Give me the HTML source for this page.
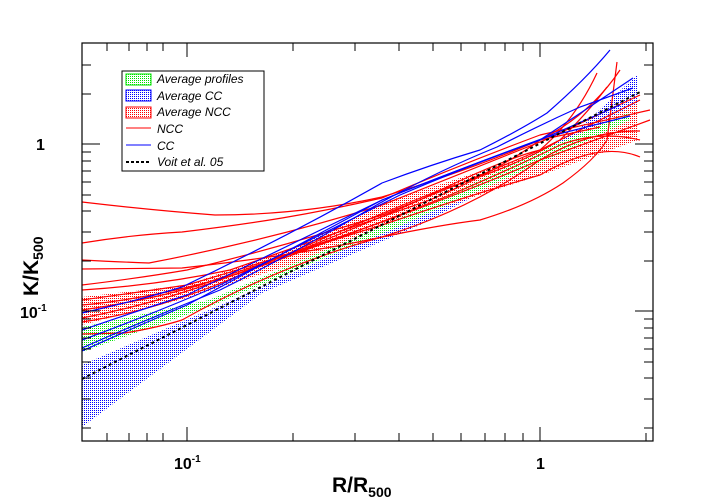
<!DOCTYPE html>
<html><head><meta charset="utf-8"><style>
body{margin:0;background:#fff}
svg{display:block;font-family:"Liberation Sans",Arial,sans-serif}
</style></head><body>
<svg width="713" height="498" viewBox="0 0 713 498" xmlns="http://www.w3.org/2000/svg">
<defs>
<pattern id="pg" width="2" height="2" patternUnits="userSpaceOnUse"><rect width="1" height="1" fill="#00e000"/></pattern>
<pattern id="pb" width="2" height="2" patternUnits="userSpaceOnUse"><rect width="1" height="1" fill="#0000ff"/></pattern>
<pattern id="pr" width="2" height="2" patternUnits="userSpaceOnUse"><rect width="1" height="1" fill="#ff0000"/></pattern>
<clipPath id="c"><rect x="82" y="43" width="571" height="398"/></clipPath>
</defs>
<g clip-path="url(#c)">
<path d="M82,365 L262,287 L420,215 L580,128 L638,74 L638,112 L580,140 L420,225 L262,293 L82,427 Z" fill="url(#pb)"/>
<path d="M82,297 L187,285 L300,245 L382,203 L547,150 L638,103 L638,140 L547,173 L382,227 L300,262 L187,298 L82,325 Z" fill="url(#pr)"/>
<path d="M82,327 L209,300 L400,218 L547,148 L630,112 L630,120 L547,160 L400,226 L209,307 L82,352 Z" fill="url(#pg)"/>
<g fill="none" stroke="#f00" stroke-width="1.2">
<path d="M82,202 Q150,210 215,215 Q300,215 382,197 Q470,170 540,140 L600,127"/>
<path d="M82,243 Q130,235 182,232 Q240,225 282,218 Q330,210 382,198 Q460,165 540,135 L650,110"/>
<path d="M82,260 Q120,262 149,263 Q270,240 382,205 Q470,170 545,140 L640,95"/>
<path d="M82,269 L182,268 Q300,255 382,237 Q470,210 540,160 Q590,130 640,131"/>
<path d="M82,334 L125,333 Q160,327 182,320 Q280,265 382,237 Q440,225 480,220 Q530,205 563,183 Q595,160 607,140 Q612,100 617,62"/>
<path d="M82,285 Q140,278 187,270 Q290,245 382,215 Q470,180 540,150 L640,100"/>
<path d="M82,300 Q140,292 187,285 Q290,255 382,222 Q470,190 540,160 L650,120"/>
<path d="M82,310 Q150,300 200,285 Q300,250 382,225 Q470,195 540,175 Q600,140 640,157"/>
<path d="M82,318 Q150,305 220,280 Q330,240 420,200 Q500,160 540,150 Q575,120 597,73"/>
<path d="M82,322 Q160,310 240,275 Q340,230 440,190 Q520,165 560,140 Q590,110 607,87"/>
<path d="M82,305 Q160,298 250,270 Q350,235 450,195 Q520,165 560,145 Q600,130 640,140"/>
<path d="M82,290 Q160,285 230,270 Q330,235 430,200 Q500,170 540,140 Q590,115 620,70"/>
</g>
<g fill="none" stroke="#00f" stroke-width="1.2">
<path d="M82,313 Q140,300 182,287 Q290,235 382,183 Q430,165 480,150 Q520,130 547,113 Q585,80 610,50"/>
<path d="M82,330 Q140,310 187,295 Q290,245 382,200 Q470,165 540,140 L633,78"/>
<path d="M82,351 Q140,325 187,305 Q290,250 382,200 Q470,165 547,137 L630,116"/>
<path d="M82,348 Q150,318 220,290 Q300,250 380,203 Q440,170 497,147 Q540,125 580,107 L633,88"/>
<path d="M82,340 Q150,315 220,285 Q310,240 400,195 Q470,165 540,140 L620,105"/>
</g>
<path d="M82,379 L642,91" stroke="#000" stroke-width="2" stroke-dasharray="3,3" fill="none"/>
</g>
<rect x="82" y="43" width="571" height="398" fill="none" stroke="#000" stroke-width="1.2"/>
<g stroke="#000" stroke-width="1">
<path d="M187,441v-14M540,441v-14M187,43v14M540,43v14
M107,441v-8M129,441v-8M147,441v-8M163,441v-8M293,441v-8M355,441v-8M399,441v-8M433,441v-8M461,441v-8M485,441v-8M505,441v-8M523,441v-8M646,441v-8
M107,43v8M129,43v8M147,43v8M163,43v8M293,43v8M355,43v8M399,43v8M433,43v8M461,43v8M485,43v8M505,43v8M523,43v8M646,43v8"/>
<path d="M82,144h18M82,311h18M653,144h-18M653,311h-18
M82,428h9M82,399h9M82,378h9M82,362h9M82,349h9M82,338h9M82,328h9M82,319h9M82,261h9M82,232h9M82,211h9M82,195h9M82,182h9M82,171h9M82,161h9M82,152h9M82,94h9M82,65h9
M653,428h-9M653,399h-9M653,378h-9M653,362h-9M653,349h-9M653,338h-9M653,328h-9M653,319h-9M653,261h-9M653,232h-9M653,211h-9M653,195h-9M653,182h-9M653,171h-9M653,161h-9M653,152h-9M653,94h-9M653,65h-9"/>
</g>
<g font-weight="bold" font-size="16" fill="#000">
<text x="36" y="150">1</text>
<text x="20" y="318">10<tspan font-size="10" dy="-7">-1</tspan></text>
<text x="174" y="469">10<tspan font-size="10" dy="-7">-1</tspan></text>
<text x="536" y="469">1</text>
</g>
<text x="332" y="492" font-weight="bold" font-size="21">R/R<tspan font-size="14" dy="5">500</tspan></text>
<text transform="translate(38,296) rotate(-90)" font-weight="bold" font-size="21">K/K<tspan font-size="14" dy="5">500</tspan></text>
<rect x="122" y="71" width="142" height="100" fill="#fff" stroke="#000" stroke-width="1"/>
<rect x="126" y="74" width="25" height="11" fill="url(#pg)" stroke="#00e000"/>
<rect x="126" y="90" width="25" height="11" fill="url(#pb)" stroke="#00f"/>
<rect x="126" y="107" width="25" height="11" fill="url(#pr)" stroke="#f00"/>
<path d="M126,128h25" stroke="#f00"/>
<path d="M126,145h25" stroke="#00f"/>
<path d="M126,162h25" stroke="#000" stroke-width="2" stroke-dasharray="3,2"/>
<g font-style="italic" font-size="12" fill="#000">
<text x="157" y="83">Average profiles</text>
<text x="157" y="100">Average CC</text>
<text x="157" y="116">Average NCC</text>
<text x="157" y="133">NCC</text>
<text x="157" y="150">CC</text>
<text x="157" y="166">Voit et al. 05</text>
</g>
</svg>
</body></html>
